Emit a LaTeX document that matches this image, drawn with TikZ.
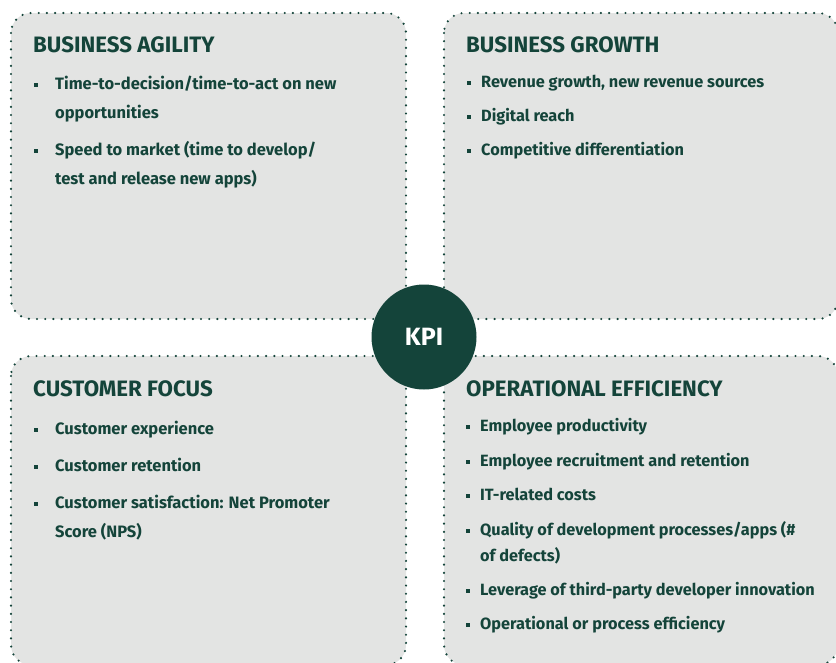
\documentclass[tikz,border=0pt]{standalone}
\usepackage{fontspec}
\setmainfont{Fira Sans}
\usepackage{tikz}
\usetikzlibrary{positioning}
\definecolor{kpigreen}{HTML}{14443A}
\definecolor{boxgray}{HTML}{E3E4E3}
\tikzset{
  quad/.style={fill=boxgray, draw=kpigreen, line width=2.4pt, line cap=round,
    dash pattern=on 0pt off 8.2pt, rounded corners=20pt},
  head/.style={anchor=base west, inner sep=0pt, text=kpigreen,
    font=\bfseries\fontsize{22.3}{22}\selectfont},
  itemL/.style={anchor=base west, inner sep=0pt, text=kpigreen, align=left,
    font=\bfseries\fontsize{16.5}{29}\selectfont},
  itemR/.style={anchor=base west, inner sep=0pt, text=kpigreen, align=left,
    font=\bfseries\fontsize{16.3}{26}\selectfont},
  sqL/.style={fill=kpigreen, minimum size=4pt, inner sep=0pt, xshift=-19pt, yshift=4.5pt},
  sqR/.style={fill=kpigreen, minimum size=4pt, inner sep=0pt, xshift=-12pt, yshift=4.5pt}
}

\begin{document}
\begin{tikzpicture}[x=1pt,y=-1pt]
\useasboundingbox (0,0) rectangle (836,662);
% the four quadrants
\draw[quad] (11,13) rectangle (406,319);
\draw[quad] (444,13) rectangle (838,319);
\draw[quad] (11,356) rectangle (406,665);
\draw[quad] (444,356) rectangle (838,665);

% business agility (two-line items sit on their last line)
\node[head] (agT) at (33,52) {BUSINESS AGILITY};
\node[itemL] (ag1) at (55,118) {Time-to-decision/time-to-act on new\\opportunities};
\node[itemL] (ag2) at (55,184) {Speed to market (time to develop/\\test and release new apps)};
\node[sqL, yshift=29pt] at (ag1.base west) {};
\node[sqL, yshift=29pt] at (ag2.base west) {};

% business growth
\node[head] (grT) at (466,52) {BUSINESS GROWTH};
\node[itemR] (gr1) at (481,87) {Revenue growth, new revenue sources};
\node[itemR] (gr2) at (481,121) {Digital reach};
\node[itemR] (gr3) at (481,155) {Competitive differentiation};
\node[sqR] at (gr1.base west) {};
\node[sqR] at (gr2.base west) {};
\node[sqR] at (gr3.base west) {};

% customer focus
\node[head] (cfT) at (33,396) {CUSTOMER FOCUS};
\node[itemL] (cf1) at (55,434) {Customer experience};
\node[itemL] (cf2) at (55,471) {Customer retention};
\node[itemL] (cf3) at (55,537) {Customer satisfaction: Net Promoter\\Score (NPS)};
\node[sqL] at (cf1.base west) {};
\node[sqL] at (cf2.base west) {};
\node[sqL, yshift=29pt] at (cf3.base west) {};

% operational efficiency
\node[head] (opT) at (466,396) {OPERATIONAL EFFICIENCY};
\node[itemR] (op1) at (480,431) {Employee productivity};
\node[itemR] (op2) at (480,466) {Employee recruitment and retention};
\node[itemR] (op3) at (480,500) {IT-related costs};
\node[itemR] (op4) at (480,561) {Quality of development processes/apps (\#\\of defects)};
\node[itemR] (op5) at (480,595) {Leverage of third-party developer innovation};
\node[itemR] (op6) at (480,629) {Operational or process efficiency};
\node[sqR] at (op1.base west) {};
\node[sqR] at (op2.base west) {};
\node[sqR] at (op3.base west) {};
\node[sqR, yshift=26pt] at (op4.base west) {};
\node[sqR] at (op5.base west) {};
\node[sqR] at (op6.base west) {};

% centre
\node[circle, fill=kpigreen, minimum size=105pt, inner sep=0pt, text=white,
  font=\bfseries\fontsize{25}{25}\selectfont] (kpi) at (424,337) {KPI};
\end{tikzpicture}
\end{document}
